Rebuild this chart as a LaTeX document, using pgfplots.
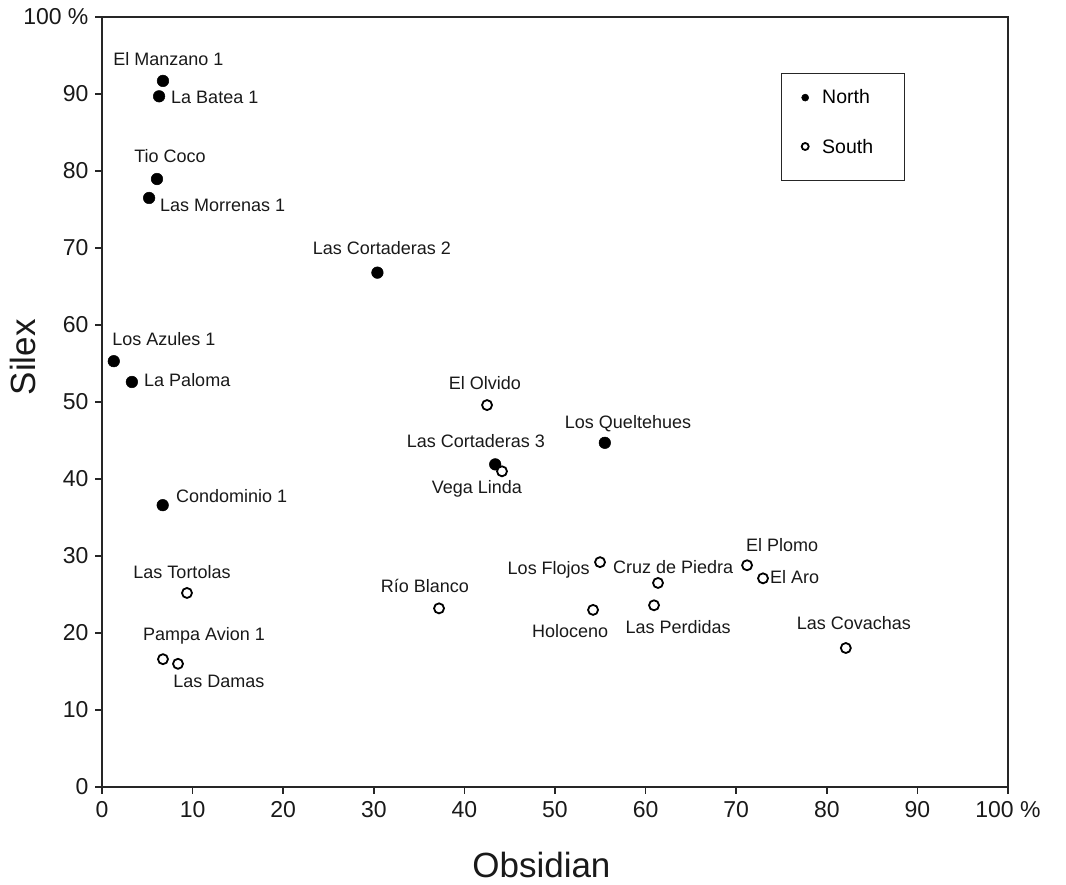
\documentclass[border=0pt]{standalone}
\usepackage{fontspec}
\setmainfont{Liberation Sans}
\usepackage{pgfplots}
\pgfplotsset{compat=1.18}

\tikzset{lbl/.style={font=\fontsize{18}{22}\selectfont, inner sep=0pt, text=black!90}}
\pgfplotsset{siteleg/.style={legend image code/.code={
    \path[draw=none, fill=none] (-13pt,0pt) -- (15pt,0pt);
    \draw[##1] plot coordinates {(0pt,#1)};}}}

\begin{document}
\begin{tikzpicture}
\begin{axis}[
    at={(0,0)}, anchor=south west,
    scale only axis, width=906pt, height=770pt,
    xmin=0, xmax=100, ymin=0, ymax=100,
    xtick={0,10,...,100}, ytick={0,10,...,100},
    xticklabels={0,10,20,30,40,50,60,70,80,90,100 \%},
    yticklabels={0,10,20,30,40,50,60,70,80,90,100 \%},
    /pgf/number format/assume math mode=true,
    tick align=outside, xtick pos=bottom, ytick pos=left,
    major tick length=7pt,
    axis line style={line width=1.5pt, black!85},
    every tick/.style={line width=1.5pt, black!85},
    ticklabel style={font=\fontsize{23}{27}\selectfont, text=black!90},
    xticklabel style={yshift=-4pt},
    yticklabel style={xshift=-3pt},
    xlabel={Obsidian}, ylabel={Silex},
    xlabel style={at={([yshift=-78pt]axis description cs:0.485,0)}, anchor=center,
        font=\fontsize{35}{42}\selectfont, text=black!90},
    ylabel style={at={([xshift=-79pt]axis description cs:0,0.558)}, anchor=center,
        font=\fontsize{35}{42}\selectfont, text=black!90},
    legend style={at={(axis cs:74.9,92.7)}, anchor=north west,
        draw=black!85, line width=1.2pt,
        font=\fontsize{19.5}{23}\selectfont,
        inner xsep=11pt, inner ysep=14pt, row sep=30pt,
        /tikz/row 2 column 2/.style={nodes={text depth=11pt}}},
    legend cell align=left,
    legend image post style={mark size=3.5pt},
]

% North sites
\addplot[only marks, mark=*, mark size=5.8pt, siteleg=0pt,
    mark options={fill=black, draw=black, line width=0.5pt}]
    coordinates {
    (6.73,91.7) (6.3,89.7) (6.07,78.96) (5.2,76.5) (30.4,66.8)
    (1.3,55.3) (3.3,52.6) (6.7,36.6) (43.4,41.9) (55.5,44.7)
    };
\addlegendentry{North\hspace*{22pt}}

% South sites
\addplot[only marks, mark=*, mark size=5pt, siteleg=5.5pt,
    mark options={fill=white, draw=black, line width=1.8pt}]
    coordinates {
    (42.5,49.6) (44.15,41.0) (9.38,25.2) (37.2,23.2) (54.97,29.2)
    (54.2,23.0) (61.37,26.5) (60.93,23.6) (71.2,28.8) (72.96,27.1)
    (82.1,18.05) (6.73,16.6) (8.39,16.0)
    };
\addlegendentry{South}

\node[lbl, anchor=base] at (axis cs:7.34,93.64) {El Manzano 1};
\node[lbl, anchor=base west] at (axis cs:7.62,88.83) {La Batea 1};
\node[lbl, anchor=base] at (axis cs:7.51,81.04) {Tio Coco};
\node[lbl, anchor=base west] at (axis cs:6.40,74.68) {Las Morrenas 1};
\node[lbl, anchor=base] at (axis cs:30.9,69.22) {Las Cortaderas 2};
\node[lbl, anchor=base] at (axis cs:6.84,57.4) {Los Azules 1};
\node[lbl, anchor=base west] at (axis cs:4.64,51.95) {La Paloma};
\node[lbl, anchor=base west] at (axis cs:8.17,37.01) {Condominio 1};
\node[lbl, anchor=base] at (axis cs:42.27,51.56) {El Olvido};
\node[lbl, anchor=base] at (axis cs:58.06,46.62) {Los Queltehues};
\node[lbl, anchor=base] at (axis cs:41.28,44.03) {Las Cortaderas 3};
\node[lbl, anchor=base] at (axis cs:41.39,38.18) {Vega Linda};
\node[lbl, anchor=base east] at (axis cs:53.86,27.66) {Los Flojos};
\node[lbl, anchor=base west] at (axis cs:56.4,27.79) {Cruz de Piedra};
\node[lbl, anchor=base] at (axis cs:75.06,30.52) {El Plomo};
\node[lbl, anchor=base west] at (axis cs:73.73,26.49) {El Aro};
\node[lbl, anchor=base] at (axis cs:51.66,19.48) {Holoceno};
\node[lbl, anchor=base] at (axis cs:63.58,20.0) {Las Perdidas};
\node[lbl, anchor=base] at (axis cs:83.0,20.39) {Las Covachas};
\node[lbl, anchor=base] at (axis cs:8.83,27.14) {Las Tortolas};
\node[lbl, anchor=base] at (axis cs:11.26,19.09) {Pampa Avion 1};
\node[lbl, anchor=base] at (axis cs:12.91,12.86) {Las Damas};
\node[lbl, anchor=base] at (axis cs:35.65,25.32) {Río Blanco};

\end{axis}
\pgfresetboundingbox
\path (-102pt,-97pt) rectangle (964pt,787pt);
\end{tikzpicture}
\end{document}
